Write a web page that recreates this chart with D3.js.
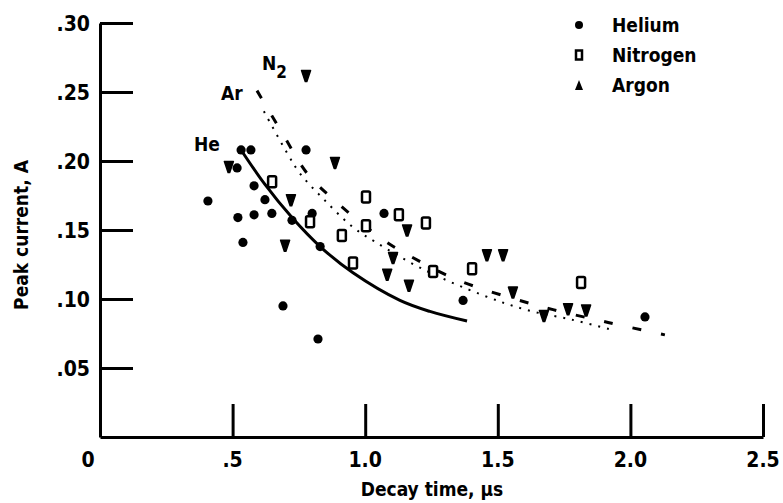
<!DOCTYPE html>
<html>
<head>
<meta charset="utf-8">
<script src="https://cdn.jsdelivr.net/npm/d3@7"></script>
<style>
  body { margin: 0; background: #fff; }
  text { font-family: "DejaVu Sans", sans-serif; font-stretch: condensed; font-weight: bold; fill: #000; }
</style>
</head>
<body>
<div id="container"></div>
<script>
/* CONSTANTS AND GLOBALS */
const width = 783,
  height = 503,
  margin = { top: 23, bottom: 66, left: 100, right: 20 };

/* DATA */
// decay time (us), peak current (A)
const heliumX = [0.407, 0.532, 0.569, 0.517, 0.581, 0.622, 0.520, 0.581, 0.648, 0.724, 0.800, 0.539, 0.830, 0.777, 1.071, 0.690, 0.822, 1.369, 2.055];
const heliumY = [0.171, 0.208, 0.208, 0.195, 0.182, 0.172, 0.159, 0.161, 0.162, 0.157, 0.162, 0.141, 0.138, 0.208, 0.162, 0.095, 0.071, 0.099, 0.087];

const nitrogenX = [0.649, 0.792, 0.912, 0.954, 1.003, 1.003, 1.127, 1.229, 1.256, 1.403, 1.814];
const nitrogenY = [0.185, 0.156, 0.146, 0.126, 0.174, 0.153, 0.161, 0.155, 0.120, 0.122, 0.112];

const argonX = [0.486, 0.720, 0.698, 0.777, 0.886, 1.083, 1.105, 1.158, 1.165, 1.459, 1.520, 1.557, 1.674, 1.765, 1.833];
const argonY = [0.196, 0.172, 0.139, 0.262, 0.199, 0.118, 0.130, 0.150, 0.110, 0.132, 0.132, 0.105, 0.088, 0.093, 0.092];

// fitted curves
const heCurveX = [0.532, 0.622, 0.724, 0.830, 0.954, 1.131, 1.244, 1.384];
const heCurveY = [0.208, 0.183, 0.159, 0.138, 0.119, 0.099, 0.091, 0.084];

const n2CurveX = [0.592, 0.694, 0.781, 0.875, 1.067, 1.161, 1.346, 1.636, 1.916, 2.130];
const n2CurveY = [0.251, 0.218, 0.191, 0.173, 0.143, 0.132, 0.114, 0.096, 0.083, 0.074];

const arCurveX = [0.618, 0.705, 0.754, 0.845, 0.954, 1.041, 1.214, 1.440, 1.610, 1.780, 1.923];
const arCurveY = [0.236, 0.206, 0.191, 0.172, 0.152, 0.141, 0.122, 0.103, 0.092, 0.085, 0.078];

const xTicks = [0, 0.5, 1.0, 1.5, 2.0, 2.5];
const xTickLabels = ["0", ".5", "1.0", "1.5", "2.0", "2.5"];
const yTicks = [0.05, 0.10, 0.15, 0.20, 0.25, 0.30];
const yTickLabels = [".05", ".10", ".15", ".20", ".25", ".30"];

const legendNames = ["Helium", "Nitrogen", "Argon"];

const zip = (xs, ys) => xs.map((x, i) => ({ x: x, y: ys[i] }));

/* SCALES */
const xScale = d3.scaleLinear()
  .domain([0, 2.5])
  .range([margin.left, width - margin.right]);

const yScale = d3.scaleLinear()
  .domain([0, 0.30])
  .range([height - margin.bottom, margin.top]);

/* SVG */
const svg = d3.select("#container")
  .append("svg")
  .attr("width", width)
  .attr("height", height);

// axes, ticks point inward
const xAxis = d3.axisBottom(xScale)
  .tickValues(xTicks)
  .tickSize(-33)
  .tickSizeOuter(0)
  .tickFormat("");

svg.append("g")
  .attr("transform", `translate(0,${yScale(0)})`)
  .call(xAxis);

const yAxis = d3.axisLeft(yScale)
  .tickValues(yTicks)
  .tickSize(-33)
  .tickSizeOuter(0)
  .tickFormat("");

svg.append("g")
  .attr("transform", `translate(${xScale(0)},0)`)
  .call(yAxis);

svg.selectAll(".domain, .tick line")
  .attr("stroke", "#000")
  .attr("stroke-width", 3);

// tick labels
svg.append("g")
  .selectAll("text")
  .data(xTicks)
  .join("text")
  .attr("x", (d, i) => i === 0 ? xScale(d) - 12 : xScale(d))
  .attr("y", yScale(0) + 30)
  .attr("text-anchor", "middle")
  .attr("font-size", 21)
  .text((d, i) => xTickLabels[i]);

svg.append("g")
  .selectAll("text")
  .data(yTicks)
  .join("text")
  .attr("x", xScale(0) - 10)
  .attr("y", d => yScale(d) + 8)
  .attr("text-anchor", "end")
  .attr("font-size", 21)
  .text((d, i) => yTickLabels[i]);

// axis titles
svg.append("text")
  .attr("x", 432)
  .attr("y", 496)
  .attr("text-anchor", "middle")
  .attr("font-size", 19)
  .text("Decay time, \u00b5s");

svg.append("text")
  .attr("transform", "translate(28,235) rotate(-90)")
  .attr("text-anchor", "middle")
  .attr("font-size", 19)
  .text("Peak current, A");

// curves
const line = d3.line()
  .x(d => xScale(d.x))
  .y(d => yScale(d.y))
  .curve(d3.curveCatmullRom);

svg.append("path")
  .datum(zip(heCurveX, heCurveY))
  .attr("d", line)
  .attr("fill", "none")
  .attr("stroke", "#000")
  .attr("stroke-width", 3);

svg.append("path")
  .datum(zip(n2CurveX, n2CurveY))
  .attr("d", line)
  .attr("fill", "none")
  .attr("stroke", "#000")
  .attr("stroke-width", 3)
  .attr("stroke-dasharray", "9,20");

svg.append("path")
  .datum(zip(arCurveX, arCurveY))
  .attr("d", line)
  .attr("fill", "none")
  .attr("stroke", "#000")
  .attr("stroke-width", 2)
  .attr("stroke-dasharray", "2,7");

// markers
const triDown = "M-4.5,-5L4.5,-5L0.8,6L-0.8,6Z";

svg.append("g")
  .selectAll("circle")
  .data(zip(heliumX, heliumY))
  .join("circle")
  .attr("cx", d => xScale(d.x))
  .attr("cy", d => yScale(d.y))
  .attr("r", 4.6)
  .attr("fill", "#000");

svg.append("g")
  .selectAll("rect")
  .data(zip(nitrogenX, nitrogenY))
  .join("rect")
  .attr("x", d => xScale(d.x) - 4)
  .attr("y", d => yScale(d.y) - 5.5)
  .attr("width", 8)
  .attr("height", 11)
  .attr("rx", 1.5)
  .attr("fill", "#fff")
  .attr("stroke", "#000")
  .attr("stroke-width", 2.5);

svg.append("g")
  .selectAll("path")
  .data(zip(argonX, argonY))
  .join("path")
  .attr("transform", d => `translate(${xScale(d.x)},${yScale(d.y)})`)
  .attr("d", triDown)
  .attr("fill", "#000")
  .attr("stroke", "#000")
  .attr("stroke-width", 1.5)
  .attr("stroke-linejoin", "round");

// curve labels
svg.append("text").attr("x", 194).attr("y", 151).attr("font-size", 19).text("He");
svg.append("text").attr("x", 221).attr("y", 100).attr("font-size", 19).text("Ar");
const n2 = svg.append("text").attr("x", 262).attr("y", 70).attr("font-size", 19);
n2.append("tspan").text("N");
n2.append("tspan").attr("dy", 8).attr("font-size", 17).text("2");

// legend
const legend = svg.append("g")
  .selectAll("g")
  .data(legendNames)
  .join("g")
  .attr("transform", (d, i) => `translate(579,${25 + i * 30})`);

legend.append("text")
  .attr("x", 33)
  .attr("y", 7)
  .attr("font-size", 19)
  .text(d => d);

legend.filter((d, i) => i === 0).append("circle").attr("r", 4).attr("fill", "#000");
legend.filter((d, i) => i === 1).append("rect")
  .attr("x", -3).attr("y", -4.5).attr("width", 6).attr("height", 9)
  .attr("fill", "#fff").attr("stroke", "#000").attr("stroke-width", 2.5);
legend.filter((d, i) => i === 2).append("path")
  .attr("d", "M0,-5L4,5L-4,5Z").attr("fill", "#000");
</script>
</body>
</html>
